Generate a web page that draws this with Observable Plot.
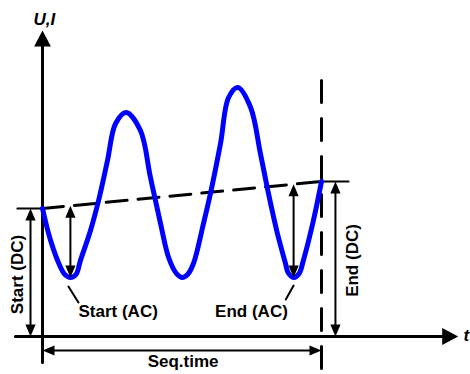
<!DOCTYPE html>
<html><head><meta charset="utf-8">
<script src="https://cdn.jsdelivr.net/npm/d3@7"></script>
<script src="https://cdn.jsdelivr.net/npm/@observablehq/plot@0.6"></script>
<style>html,body{margin:0;padding:0;background:#fff} svg{display:block}</style>
</head><body><div id="chart"></div>
<script>
// Waveform (time in s, value in V)
const waveT = [0, 0.29, 0.65, 0.8, 1, 1.2, 1.36, 1.72, 2.01, 2.33, 2.62, 3, 3.51, 3.87, 4.23, 4.52, 4.8, 5, 5.2, 5.41, 5.77, 6.02, 6.38, 6.67, 7, 7.46, 7.81, 8.1, 8.42, 8.71, 8.8, 9, 9.2, 9.35, 9.71, 10];
const waveU = [12.8, 9.6, 6.9, 6.2, 5.9, 6.2, 7.6, 10.6, 13.6, 17.6, 21.3, 22.4, 20.6, 15.9, 11.3, 7.9, 6.3, 5.9, 6.2, 7.3, 11.3, 14.3, 19.3, 23.9, 24.9, 22.9, 18.3, 14.3, 10.3, 7.3, 6.4, 5.9, 6.3, 7.6, 11.6, 15.5];
// DC level at the start and end of the sequence
const dcT = [0, 10];
const dcU = [12.8, 15.5];
const dcLabels = ["Start (DC)", "End (DC)"];
// AC minima that are annotated
const acT = [1, 9];
const acU = [5.9, 5.9];
const acLabels = ["Start (AC)", "End (AC)"];
const seqLabel = "Seq.time";
const axisLabels = ["U,I", "t"];

const font = "'Liberation Sans', Arial, Helvetica, sans-serif";
const wave = waveT.map((t, i) => ({t, U: waveU[i]}));
const dcAt = t => dcU[0] + (dcU[1] - dcU[0]) * (t - dcT[0]) / (dcT[1] - dcT[0]);
const seqEnd = dcT[1];

function head(ratio) {
  return {draw(ctx, size) {
    const L = Math.sqrt(size / Math.PI), w = L * ratio / 2;
    ctx.moveTo(0, 0); ctx.lineTo(w, L); ctx.lineTo(-w, L); ctx.closePath();
  }};
}
const bigHead = head(1.05), smallHead = head(0.85);

const seg = (a, b, o = {}) => Plot.line([{t: a[0], U: a[1]}, {t: b[0], U: b[1]}],
  {x: "t", y: "U", stroke: "black", strokeWidth: 2, ...o});
const tip = (t, U, rot, big = false) => Plot.dot([{t, U}],
  {x: "t", y: "U", symbol: big ? bigHead : smallHead, r: big ? 16 : 12, rotate: rot, fill: "black", stroke: "none"});
const label = (t, U, text, o = {}) => Plot.text([{t, U}],
  {x: "t", y: "U", text: () => text, fontSize: 17, fontWeight: "bold", fontFamily: font, fill: "black", ...o});

const marks = [
  // axes
  seg([0, -2.6], [0, 29.4], {strokeWidth: 3}),
  tip(0, 30.6, 0, true),
  seg([-0.97, 0], [14.4, 0], {strokeWidth: 3}),
  tip(14.9, 0, 90, true),
  // dashed DC ramp and sequence end
  seg([dcT[0], dcU[0]], [dcT[1], dcU[1]], {strokeWidth: 3, strokeDasharray: "21,11"}),
  seg([seqEnd, 25.6], [seqEnd, -3.8], {strokeWidth: 3, strokeDasharray: "22,16"}),
  // start DC
  seg([-0.9, dcU[0]], [0.07, dcU[0]]),
  seg([-0.43, dcU[0] - 0.6], [-0.43, 0.6]),
  tip(-0.43, dcU[0], 0), tip(-0.43, 0, 180),
  // end DC
  seg([dcT[1] - 0.04, dcU[1]], [10.97, dcU[1]]),
  seg([10.5, dcU[1] - 0.6], [10.5, 0.6]),
  tip(10.5, dcU[1], 0), tip(10.5, 0, 180),
  // waveform
  Plot.line(wave, {x: "t", y: "U", stroke: "#0000ff", strokeWidth: 5, curve: "catmull-rom"}),
  // AC arrows
  seg([acT[0], dcAt(acT[0]) - 0.6], [acT[0], acU[0] + 0.6]),
  tip(acT[0], dcAt(acT[0]), 0), tip(acT[0], acU[0], 180),
  seg([acT[1], dcAt(acT[1]) - 0.6], [acT[1], acU[1] + 0.6]),
  tip(acT[1], dcAt(acT[1]), 0), tip(acT[1], acU[1], 180),
  // leaders
  seg([acT[0] - 0.07, acU[0] - 0.9], [acT[0] + 0.29, acU[0] - 2.5]),
  seg([acT[1], acU[1] - 0.8], [acT[1] - 0.28, acU[1] - 2.2]),
  // sequence time arrow
  seg([0.4, -1.4], [seqEnd - 0.4, -1.4]),
  tip(0, -1.4, 270), tip(seqEnd, -1.4, 90),
  // texts
  label(acT[0] + 0.29, 2.5, acLabels[0], {textAnchor: "start"}),
  label(7.49, 2.5, acLabels[1]),
  label(-0.9, 6.2, dcLabels[0], {rotate: -90}),
  label(11.1, 7.6, dcLabels[1], {rotate: -90}),
  label(5.04, -2.55, seqLabel),
  label(0.07, 31.7, axisLabels[0], {fontStyle: "italic"}),
  label(15.09, 0.1, axisLabels[1], {fontStyle: "italic", textAnchor: "start"})
];

const chart = Plot.plot({
  width: 470, height: 374,
  margin: 0,
  x: {domain: [-42 / 27.9, 428 / 27.9], axis: null},
  y: {domain: [-3.8, 33.6], axis: null},
  style: {background: "#fff", overflow: "hidden"},
  marks
});
document.getElementById("chart").appendChild(chart);
</script>
</body></html>
